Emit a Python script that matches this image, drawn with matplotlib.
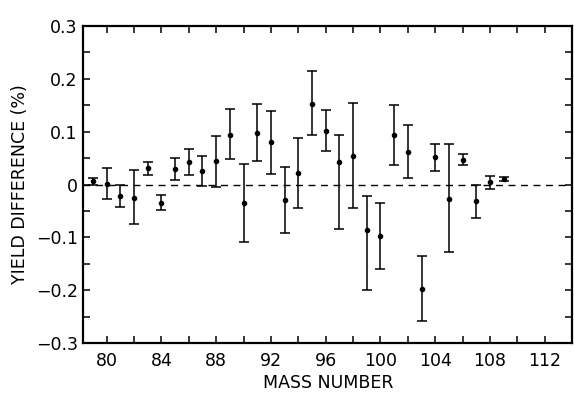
import numpy as np
import matplotlib
matplotlib.use("Agg")
import matplotlib.pyplot as plt
from matplotlib.ticker import MultipleLocator, FixedLocator

# mass numbers and yield differences (%)
mass = [79, 80, 81, 82, 83, 84, 85, 86, 87, 88, 89, 90, 91, 92, 93, 94, 95,
        96, 97, 98, 99, 100, 101, 102, 103, 104, 105, 106, 107, 108, 109]
diff = [0.006, 0.002, -0.021, -0.025, 0.031, -0.034, 0.030, 0.043, 0.026, 0.044,
        0.093, -0.034, 0.097, 0.080, -0.029, 0.021, 0.153,
        0.102, 0.043, 0.055, -0.086, -0.097, 0.094, 0.062, -0.198, 0.052,
        -0.027, 0.046, -0.031, 0.004, 0.010]
err_lo = [0.007, 0.030, 0.022, 0.050, 0.012, 0.015, 0.021, 0.024, 0.028, 0.048,
          0.045, 0.074, 0.052, 0.060, 0.062, 0.066, 0.060,
          0.038, 0.127, 0.099, 0.114, 0.062, 0.057, 0.050, 0.060, 0.026,
          0.100, 0.009, 0.032, 0.012, 0.004]
err_hi = [0.007, 0.030, 0.021, 0.052, 0.011, 0.015, 0.021, 0.025, 0.028, 0.047,
          0.050, 0.073, 0.055, 0.060, 0.063, 0.067, 0.061,
          0.040, 0.051, 0.099, 0.065, 0.062, 0.056, 0.050, 0.063, 0.025,
          0.103, 0.011, 0.031, 0.012, 0.004]

x_labels = [80, 84, 88, 92, 96, 100, 104, 108, 112]
y_labels = ["0.3", "0.2", "0.1", "0", "\u22120.1", "\u22120.2", "\u22120.3"]

plt.rcParams['font.family'] = ['DejaVu Sans']

fig = plt.figure(figsize=(5.74, 3.94), dpi=100)
ax = fig.add_axes([0.145, 0.129, 0.852, 0.805])

ax.axhline(0, color='black', lw=1.0, ls=(0, (5, 4)), zorder=1)
ax.errorbar(mass, diff, yerr=[err_lo, err_hi], fmt='o', color='black',
            ms=3, elinewidth=1.1, capsize=3.5, capthick=1.1, zorder=3)

ax.set_xlim(78.3, 114.0)
ax.set_ylim(-0.3, 0.3)
ax.xaxis.set_major_locator(FixedLocator(x_labels))
ax.xaxis.set_minor_locator(MultipleLocator(2))
ax.yaxis.set_major_locator(MultipleLocator(0.1))
ax.yaxis.set_minor_locator(MultipleLocator(0.05))
ax.set_xticklabels([str(v) for v in x_labels])
ax.set_yticks([0.3, 0.2, 0.1, 0, -0.1, -0.2, -0.3])
ax.set_yticklabels(y_labels)

ax.tick_params(which='both', direction='in', top=True, right=True,
               length=5, width=1.1, labelsize=12.5)
ax.tick_params(axis='x', pad=6)
ax.tick_params(axis='y', pad=4)
for s in ax.spines.values():
    s.set_linewidth(1.6)

ax.set_xlabel('MASS NUMBER', fontsize=12.5, labelpad=3)
ax.set_ylabel('YIELD DIFFERENCE (%)', fontsize=12.5, labelpad=5)

fig.savefig('out.png', dpi=100)
